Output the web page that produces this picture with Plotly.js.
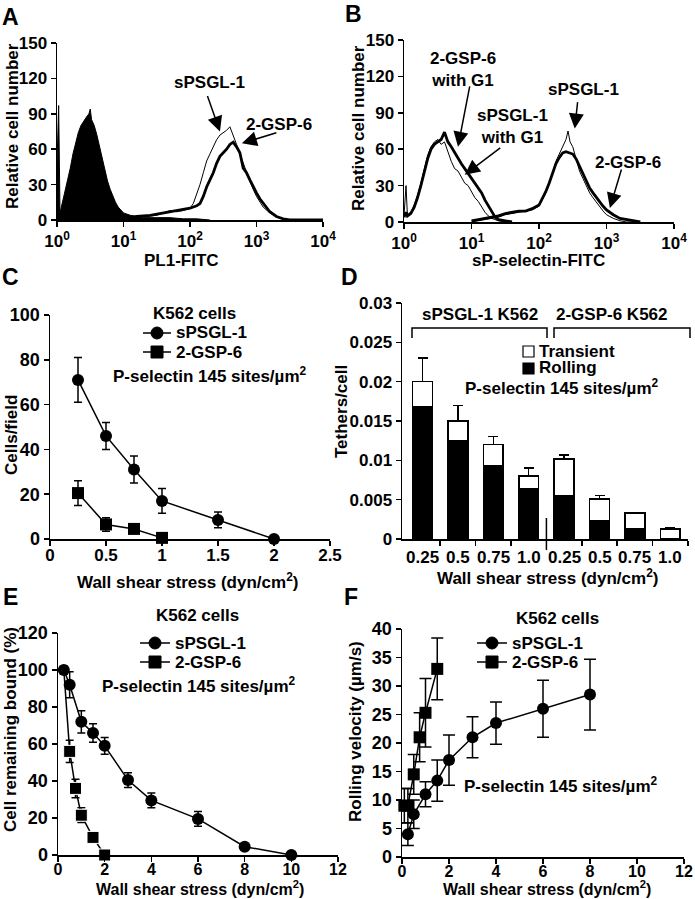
<!DOCTYPE html>
<html>
<head>
<meta charset="utf-8">
<script src="https://cdn.plot.ly/plotly-3.0.1.min.js"></script>
<style>
  html, body { margin: 0; padding: 0; background: #fff; }
  #graph { width: 695px; height: 899px; }
</style>
</head>
<body>
<div id="graph"></div>
<script>
// ---- panel A: PL1-FITC histograms (x in decades) ----
var decadeTicks = [0, 1, 2, 3, 4];
var decadeLabels = ['10<sup>0</sup>', '10<sup>1</sup>', '10<sup>2</sup>', '10<sup>3</sup>', '10<sup>4</sup>'];

var histA_ctrlX = [0, 0.025, 0.045, 0.08, 0.12, 0.16, 0.2, 0.24, 0.28, 0.32, 0.36, 0.4, 0.44, 0.48, 0.5, 0.52, 0.56, 0.6, 0.64, 0.68, 0.72, 0.76, 0.8, 0.84, 0.88, 0.92, 0.96, 1.0, 1.05, 1.1, 1.2, 1.3, 1.5, 1.7, 1.9, 2.1, 2.3];
var histA_ctrlY = [48, 97, 6, 14, 24, 34, 44, 56, 66, 74, 80, 84, 87, 90, 94, 85, 80, 72, 62, 52, 42, 33, 26, 20, 15, 11, 8, 6, 5, 4, 3, 2, 2, 2, 1, 1, 0];
var histA_spsglX = [1.0, 1.2, 1.4, 1.5, 1.6, 1.7, 1.8, 1.9, 2.0, 2.05, 2.1, 2.15, 2.2, 2.25, 2.3, 2.35, 2.4, 2.45, 2.5, 2.55, 2.6, 2.65, 2.7, 2.75, 2.8, 2.85, 2.9, 2.95, 3.0, 3.1, 3.2, 3.3, 3.4, 3.5, 4.0];
var histA_spsglY = [1, 2, 3, 4, 6, 8, 7, 8, 10, 14, 22, 30, 40, 50, 56, 62, 68, 72, 74, 76, 79, 72, 64, 56, 48, 40, 33, 26, 20, 11, 6, 3, 1, 0, 0];
var histA_gspX = [1.0, 1.2, 1.4, 1.6, 1.8, 1.9, 2.0, 2.1, 2.15, 2.2, 2.25, 2.3, 2.35, 2.4, 2.45, 2.5, 2.55, 2.6, 2.65, 2.7, 2.75, 2.8, 2.85, 2.9, 2.95, 3.0, 3.05, 3.1, 3.15, 3.2, 3.3, 3.4, 3.5, 4.0];
var histA_gspY = [1, 3, 4, 6, 8, 9, 10, 12, 14, 20, 28, 34, 40, 48, 54, 57, 60, 64, 66, 62, 57, 44, 40, 34, 28, 23, 18, 14, 11, 7, 3, 1, 0, 0];

// ---- panel B: sP-selectin-FITC histograms ----
var histB_spsglG1X = [0, 0.03, 0.05, 0.1, 0.15, 0.2, 0.25, 0.3, 0.35, 0.4, 0.45, 0.5, 0.55, 0.6, 0.65, 0.7, 0.75, 0.8, 0.85, 0.9, 0.95, 1.0, 1.05, 1.1, 1.15, 1.2, 1.25, 1.3, 1.4, 1.5];
var histB_spsglG1Y = [5, 30, 6, 8, 14, 22, 32, 44, 55, 62, 66, 68, 64, 66, 57, 50, 44, 42, 37, 32, 30, 25, 20, 17, 12, 8, 5, 3, 1, 0];
var histB_gspG1X = [0, 0.03, 0.05, 0.1, 0.15, 0.2, 0.25, 0.3, 0.35, 0.4, 0.45, 0.5, 0.55, 0.6, 0.65, 0.7, 0.75, 0.8, 0.85, 0.9, 0.95, 1.0, 1.05, 1.1, 1.15, 1.2, 1.25, 1.3, 1.35, 1.4, 1.5, 1.6];
var histB_gspG1Y = [4, 8, 5, 7, 12, 20, 30, 42, 52, 60, 64, 66, 68, 74, 66, 62, 57, 52, 48, 44, 40, 37, 32, 28, 24, 18, 13, 8, 4, 2, 1, 0];
var histB_spsglX = [1.0, 1.2, 1.4, 1.5, 1.6, 1.7, 1.8, 1.9, 2.0, 2.05, 2.1, 2.15, 2.2, 2.25, 2.3, 2.35, 2.4, 2.43, 2.46, 2.5, 2.55, 2.6, 2.65, 2.7, 2.75, 2.8, 2.85, 2.9, 2.95, 3.0, 3.1, 3.2, 3.3, 3.5];
var histB_spsglY = [0, 2, 4, 6, 7, 8, 9, 10, 13, 18, 24, 32, 40, 50, 56, 62, 68, 75, 66, 62, 52, 42, 36, 30, 24, 20, 16, 12, 9, 6, 3, 1, 0, 0];
var histB_gspX = [1.0, 1.2, 1.4, 1.5, 1.6, 1.7, 1.8, 1.9, 2.0, 2.05, 2.1, 2.15, 2.2, 2.25, 2.3, 2.35, 2.4, 2.45, 2.5, 2.55, 2.6, 2.65, 2.7, 2.75, 2.8, 2.85, 2.9, 2.95, 3.0, 3.05, 3.1, 3.2, 3.3, 3.4, 3.5];
var histB_gspY = [1, 3, 5, 7, 8, 9, 9, 11, 14, 19, 25, 32, 40, 48, 53, 57, 58, 57, 56, 52, 46, 40, 33, 28, 24, 20, 16, 13, 10, 8, 6, 3, 2, 1, 0];

// ---- panel C: cells/field ----
var stressC_spsgl = [0.25, 0.5, 0.75, 1, 1.5, 2];
var cells_spsgl = [71, 46, 31, 17, 8.5, 0];
var cellsErr_spsgl = [10, 6, 6, 5.5, 3.5, 0];
var stressC_gsp = [0.25, 0.5, 0.75, 1];
var cells_gsp = [20.5, 6.5, 4.5, 0.5];
var cellsErr_gsp = [5.5, 3, 1, 0];

// ---- panel D: tethers/cell ----
var tetherLabels = ['0.25', '0.5', '0.75', '1.0', '0.25', '0.5', '0.75', '1.0'];
var tetherRolling = [0.0168, 0.0125, 0.0093, 0.0064, 0.0055, 0.0023, 0.0013, 0];
var tetherTotal = [0.020, 0.015, 0.012, 0.008, 0.0102, 0.0051, 0.0033, 0.0013];
var tetherErrTop = [0.023, 0.017, 0.013, 0.009, 0.0107, 0.0055, 0.0034, 0.0014];

// ---- panel E: cell remaining bound ----
var stressE_spsgl = [0.25, 0.5, 1, 1.5, 2, 3, 4, 6, 8, 10];
var bound_spsgl = [100, 92, 72, 66, 59, 40.5, 29.5, 19.5, 4.5, 0];
var boundErr_spsgl = [2, 7, 6, 5, 4.5, 4, 4, 4, 1, 0];
var stressE_gsp = [0.25, 0.5, 0.75, 1, 1.5, 2];
var bound_gsp = [100, 56, 36, 21.5, 9.5, 0];
var boundErr_gsp = [2, 6, 5, 4, 1, 0];

// ---- panel F: rolling velocity ----
var stressF_spsgl = [0.25, 0.5, 1, 1.5, 2, 3, 4, 6, 8];
var vel_spsgl = [4, 7.5, 11, 13.4, 17, 21, 23.5, 26, 28.5];
var velErr_spsgl = [2, 2.5, 2.2, 3.6, 4.4, 3.6, 3.7, 5, 6.2];
var stressF_gsp = [0.1, 0.25, 0.5, 0.75, 1, 1.5];
var vel_gsp = [9, 9, 14.5, 21, 25.3, 33];
var velErr_gsp = [3, 3, 3.5, 4.3, 6, 5.4];

var W = 695, H = 899;
var FONT = 'Liberation Sans, Arial, Helvetica, sans-serif';
var TXT = 17;

function fx(p) { return p / W; }
function fy(p) { return 1 - p / H; }

function histLine(x, y, w, xa, ya) {
    return { x: x, y: y, xaxis: xa, yaxis: ya, type: 'scatter', mode: 'lines',
             line: { color: '#000', width: w }, hoverinfo: 'skip' };
}

function series(x, y, err, sym, xa, ya, capw, size) {
    return {
        x: x, y: y, xaxis: xa, yaxis: ya, type: 'scatter', mode: 'lines+markers',
        line: { color: '#000', width: 1.5 },
        marker: { color: '#000', size: size || 12, symbol: sym, opacity: 1 },
        error_y: { type: 'data', array: err, color: '#000', thickness: 1.5, width: capw },
        cliponaxis: false
    };
}

var transient = tetherTotal.map(function (t, i) { return t - tetherRolling[i]; });
var transientErr = tetherErrTop.map(function (t, i) { return t - tetherTotal[i]; });
var barX = tetherLabels.map(function (l, i) { return i + 1; });
// first 2-GSP-6 square in E sits under the sPSGL-1 circle
var squareSizesE = stressE_gsp.map(function (s, i) { return i === 0 ? 8 : 12; });

var data = [
    // A
    { x: histA_ctrlX, y: histA_ctrlY, xaxis: 'x', yaxis: 'y', type: 'scatter', mode: 'lines',
      fill: 'tozeroy', fillcolor: '#000', line: { color: '#000', width: 1 } },
    histLine(histA_spsglX, histA_spsglY, 1, 'x', 'y'),
    histLine(histA_gspX, histA_gspY, 2.8, 'x', 'y'),
    // B
    histLine(histB_spsglG1X, histB_spsglG1Y, 1, 'x2', 'y2'),
    histLine(histB_gspG1X, histB_gspG1Y, 2.8, 'x2', 'y2'),
    histLine(histB_gspX, histB_gspY, 2.8, 'x2', 'y2'),
    histLine(histB_spsglX, histB_spsglY, 1, 'x2', 'y2'),
    // C
    series(stressC_gsp, cells_gsp, cellsErr_gsp, 'square', 'x3', 'y3', 4),
    series(stressC_spsgl, cells_spsgl, cellsErr_spsgl, 'circle', 'x3', 'y3', 4),
    // D
    { x: barX, y: tetherRolling, xaxis: 'x4', yaxis: 'y4', type: 'bar', width: 0.56,
      marker: { color: '#000', line: { color: '#000', width: 1.5 } } },
    { x: barX, y: transient, xaxis: 'x4', yaxis: 'y4', type: 'bar', width: 0.56,
      marker: { color: '#fff', line: { color: '#000', width: 1.5 } },
      error_y: { type: 'data', symmetric: false, array: transientErr,
                 arrayminus: transient.map(function () { return 0; }),
                 color: '#000', thickness: 1.5, width: 5 } },
    // E
    series(stressE_gsp, bound_gsp, boundErr_gsp, 'square', 'x5', 'y5', 4, squareSizesE),
    series(stressE_spsgl, bound_spsgl, boundErr_spsgl, 'circle', 'x5', 'y5', 4),
    // F
    series(stressF_gsp, vel_gsp, velErr_gsp, 'square', 'x6', 'y6', 6),
    series(stressF_spsgl, vel_spsgl, velErr_spsgl, 'circle', 'x6', 'y6', 6)
];

function tf(size) { return { family: FONT, size: size, color: '#000', weight: 'bold' }; }
var base = {
    showline: true, linecolor: '#000', linewidth: 1.5,
    ticks: 'outside', ticklen: 5, tickwidth: 1.5, tickcolor: '#000',
    showgrid: false, zeroline: false, fixedrange: true,
    tickfont: tf(18)
};
function ax(o) { return Object.assign({}, base, o); }

var annotations = [];
var shapes = [];

function txt(text, x, y, size, opt) {
    var a = { text: text, x: fx(x), y: fy(y), xref: 'paper', yref: 'paper', showarrow: false,
              xanchor: 'center', yanchor: 'middle', font: tf(size || TXT) };
    annotations.push(Object.assign(a, opt || {}));
}
function arrow(xa, ya, x, y, axo, ayo) {
    annotations.push({ text: '', xref: xa, yref: ya, x: x, y: y, ax: axo, ay: ayo,
                       showarrow: true, arrowhead: 2, arrowsize: 2, arrowwidth: 1.5, arrowcolor: '#000' });
}
function legendRow(x1, x2, y, sym, label) {
    shapes.push({ type: 'line', xref: 'paper', yref: 'paper', x0: fx(x1), x1: fx(x2), y0: fy(y), y1: fy(y),
                  line: { color: '#000', width: 1.5 } });
    var m = (x1 + x2) / 2;
    shapes.push({ type: sym === 'circle' ? 'circle' : 'rect', xref: 'paper', yref: 'paper',
                  x0: fx(m - 6), x1: fx(m + 6), y0: fy(y + 6), y1: fy(y - 6),
                  fillcolor: '#000', line: { color: '#000', width: 1 } });
    txt(label, x2 + 3, y, TXT, { xanchor: 'left' });
}

// panel letters
txt('A', 10, 17, 23);
txt('B', 353, 14, 23);
txt('C', 10, 277, 23);
txt('D', 349, 277, 23);
txt('E', 10, 597, 23);
txt('F', 351, 597, 23);

// axis titles
txt('Relative cell number', 12, 126, TXT, { textangle: -90 });
txt('PL1-FITC', 181, 260, TXT);
txt('Relative cell number', 358, 128, TXT, { textangle: -90 });
txt('sP-selectin-FITC', 538, 260, TXT);
txt('Cells/field', 11, 435, TXT, { textangle: -90 });
txt('Wall shear stress (dyn/cm<sup>2</sup>)', 187, 581, TXT);
txt('Tethers/cell', 341, 412, TXT, { textangle: -90 });
txt('Wall shear stress (dyn/cm<sup>2</sup>)', 547, 577, TXT);
txt('Cell remaining bound (%)', 10, 730, TXT, { textangle: -90 });
txt('Wall shear stress (dyn/cm<sup>2</sup>)', 200, 888, 16);
txt('Rolling velocity (\u00b5m/s)', 355, 732, TXT, { textangle: -90 });
txt('Wall shear stress (dyn/cm<sup>2</sup>)', 547, 888, 16);

// A / B histogram labels and arrows
txt('sPSGL-1', 209, 83);
arrow('x', 'y', 2.45, 75, -13, -37);
txt('2-GSP-6', 279, 125);
arrow('x', 'y', 2.78, 65, 36, -11);
txt('2-GSP-6<br>with G1', 463, 70);
arrow('x2', 'y2', 0.8, 62, 12, -62);
txt('sPSGL-1<br>with G1', 512, 127);
arrow('x2', 'y2', 0.9, 39, 37, -28);
txt('sPSGL-1', 583, 90);
arrow('x2', 'y2', 2.53, 77, 3, -28);
txt('2-GSP-6', 628, 162);
arrow('x2', 'y2', 3.05, 11.5, 12, -40);

// C legend
txt('K562 cells', 195, 313);
legendRow(143, 171, 333, 'circle', 'sPSGL-1');
legendRow(143, 171, 352, 'square', '2-GSP-6');
txt('P-selectin 145 sites/\u00b5m<sup>2</sup>', 210, 375);

// D brackets, legend and labels
shapes.push({ type: 'path', xref: 'paper', yref: 'paper',
              path: 'M' + fx(412) + ',' + fy(338) + ' L' + fx(412) + ',' + fy(328) + ' L' + fx(547) + ',' + fy(328) + ' L' + fx(547) + ',' + fy(338),
              line: { color: '#000', width: 1.5 } });
shapes.push({ type: 'path', xref: 'paper', yref: 'paper',
              path: 'M' + fx(554) + ',' + fy(338) + ' L' + fx(554) + ',' + fy(328) + ' L' + fx(690) + ',' + fy(328) + ' L' + fx(690) + ',' + fy(338),
              line: { color: '#000', width: 1.5 } });
txt('sPSGL-1 K562', 480, 314);
txt('2-GSP-6 K562', 612, 314);
shapes.push({ type: 'rect', xref: 'paper', yref: 'paper', x0: fx(523), x1: fx(534), y0: fy(357), y1: fy(346),
              fillcolor: '#fff', line: { color: '#000', width: 1.2 } });
shapes.push({ type: 'rect', xref: 'paper', yref: 'paper', x0: fx(523), x1: fx(534), y0: fy(374), y1: fy(363),
              fillcolor: '#000', line: { color: '#000', width: 1.2 } });
txt('Transient', 537, 351, TXT, { xanchor: 'left' });
txt('Rolling', 537, 368, TXT, { xanchor: 'left' });
txt('P-selectin 145 sites/\u00b5m<sup>2</sup>', 562, 387);
shapes.push({ type: 'line', xref: 'x4', yref: 'paper', x0: 4.5, x1: 4.5, y0: fy(518), y1: fy(550),
              line: { color: '#000', width: 1.5 } });
tetherLabels.forEach(function (l, i) {
    annotations.push({ text: l, xref: 'x4', yref: 'paper', x: barX[i], y: fy(557), showarrow: false,
                       xanchor: 'center', yanchor: 'middle', font: tf(17) });
});

// E legend
txt('K562 cells', 197, 615);
legendRow(140, 170, 643, 'circle', 'sPSGL-1');
legendRow(140, 170, 662, 'square', '2-GSP-6');
txt('P-selectin 145 sites/\u00b5m<sup>2</sup>', 199, 685);

// F legend
txt('K562 cells', 557, 618);
legendRow(477, 507, 643, 'circle', 'sPSGL-1');
legendRow(477, 507, 662, 'square', '2-GSP-6');
txt('P-selectin 145 sites/\u00b5m<sup>2</sup>', 561, 785);

var histTick = { tickfont: tf(17) };
var lowX = { tickfont: tf(17), ticklabelstandoff: -5 };
var bottomX = { tickfont: tf(16), ticklabelstandoff: -6 };
var layout = {
    width: W, height: H,
    margin: { l: 0, r: 0, t: 0, b: 0 },
    paper_bgcolor: '#fff', plot_bgcolor: 'rgba(0,0,0,0)',
    showlegend: false, barmode: 'stack',
    xaxis: ax(Object.assign({ domain: [fx(57), fx(323)], range: [0, 4], tickvals: decadeTicks, ticktext: decadeLabels, anchor: 'y' }, histTick)),
    yaxis: ax(Object.assign({ domain: [fy(220), fy(43)], range: [0, 150], dtick: 30, anchor: 'x' }, histTick)),
    xaxis2: ax(Object.assign({ domain: [fx(404), fx(674)], range: [0, 4], tickvals: decadeTicks, ticktext: decadeLabels, anchor: 'y2' }, histTick)),
    yaxis2: ax(Object.assign({ domain: [fy(222), fy(40)], range: [0, 150], dtick: 30, anchor: 'x2' }, histTick)),
    xaxis3: ax(Object.assign({ domain: [fx(50), fx(330)], range: [0, 2.5], dtick: 0.5, anchor: 'y3' }, lowX)),
    yaxis3: ax({ domain: [fy(539), fy(315)], range: [0, 100], dtick: 20, anchor: 'x3' }),
    xaxis4: ax({ domain: [fx(402), fx(688)], range: [0.42, 8.5], tickvals: [1.5, 2.5, 3.5, 5.5, 6.5, 7.5, 8.5],
                 showticklabels: false, anchor: 'y4' }),
    yaxis4: ax({ domain: [fy(539), fy(303)], range: [0, 0.03], dtick: 0.005, anchor: 'x4', tickfont: tf(17) }),
    xaxis5: ax(Object.assign({ domain: [fx(58), fx(338)], range: [0, 12], dtick: 2, anchor: 'y5' }, bottomX)),
    yaxis5: ax({ domain: [fy(855), fy(633)], range: [0, 120], dtick: 20, anchor: 'x5' }),
    xaxis6: ax(Object.assign({ domain: [fx(402), fx(684)], range: [0, 12], dtick: 2, anchor: 'y6' }, bottomX)),
    yaxis6: ax({ domain: [fy(857), fy(629)], range: [0, 40], dtick: 5, anchor: 'x6' }),
    annotations: annotations,
    shapes: shapes
};

Plotly.newPlot('graph', data, layout, { staticPlot: true });
</script>
</body>
</html>
